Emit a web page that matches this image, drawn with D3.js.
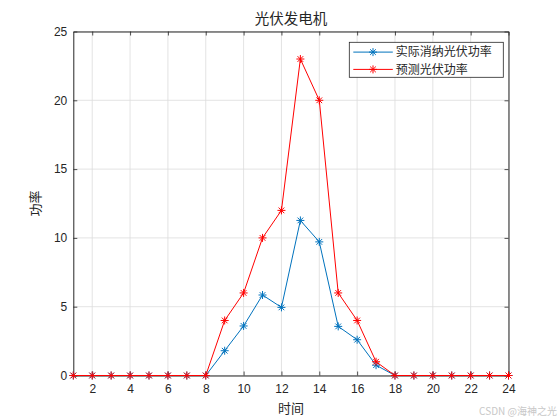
<!DOCTYPE html>
<html>
<head>
<meta charset="utf-8">
<script src="https://cdn.jsdelivr.net/npm/d3@7"></script>
<style>
  body { margin: 0; background: #fff; }
  svg { display: block; }
</style>
</head>
<body>
<svg id="chart" width="560" height="420"></svg>
<script>
// data
const hours = [1, 2, 3, 4, 5, 6, 7, 8, 9, 10, 11, 12, 13, 14, 15, 16, 17, 18, 19, 20, 21, 22, 23, 24];
const actualPower = [0, 0, 0, 0, 0, 0, 0, 0, 1.8, 3.6, 5.85, 4.95, 11.27, 9.71, 3.57, 2.6, 0.75, 0, 0, 0, 0, 0, 0, 0];
const forecastPower = [0, 0, 0, 0, 0, 0, 0, 0, 4, 6, 10, 12, 23, 20, 6, 4, 1, 0, 0, 0, 0, 0, 0, 0];
const xTicks = [2, 4, 6, 8, 10, 12, 14, 16, 18, 20, 22, 24];
const yTicks = [0, 5, 10, 15, 20, 25];
const seriesNames = ["实际消纳光伏功率", "预测光伏功率"];

const titleText = "光伏发电机";
const xLabel = "时间";
const yLabel = "功率";

const cjk = "'Noto Sans CJK SC', 'Noto Sans', sans-serif";
const num = "'Liberation Sans', Arial, sans-serif";
const ink = "#262626";

const margin = { left: 73.3, right: 560 - 508.5, top: 31.5, bottom: 420 - 375.5 };
const width = 560 - margin.left - margin.right;
const height = 420 - margin.top - margin.bottom;

const svg = d3.select("#chart");
const g = svg.append("g").attr("transform", `translate(${margin.left},${margin.top})`);

const x = d3.scaleLinear().domain([1, 24]).range([0, width]);
const y = d3.scaleLinear().domain([0, 25]).range([height, 0]);

// grid
g.append("g").selectAll("line").data(xTicks).join("line")
    .attr("x1", d => x(d)).attr("x2", d => x(d))
    .attr("y1", 0).attr("y2", height)
    .attr("stroke", "#dcdcdc").attr("stroke-width", 0.8);
g.append("g").selectAll("line").data(yTicks).join("line")
    .attr("x1", 0).attr("x2", width)
    .attr("y1", d => y(d)).attr("y2", d => y(d))
    .attr("stroke", "#dcdcdc").attr("stroke-width", 0.8);

// axes, ticks pointing inward like matlab
function styleAxis(sel) {
    sel.select(".domain").attr("stroke", ink).attr("stroke-width", 1);
    sel.selectAll(".tick line").attr("stroke", ink).attr("stroke-width", 0.8);
    sel.selectAll(".tick text").attr("fill", ink)
        .style("font-family", num).style("font-size", "12px");
}

g.append("g").attr("transform", `translate(0,${height})`)
    .call(d3.axisBottom(x).tickValues(xTicks).tickSizeInner(-4).tickSizeOuter(0).tickPadding(9))
    .call(styleAxis);
g.append("g")
    .call(d3.axisTop(x).tickValues(xTicks).tickSizeInner(-4).tickSizeOuter(0).tickFormat(""))
    .call(styleAxis);
g.append("g")
    .call(d3.axisLeft(y).tickValues(yTicks).tickSizeInner(-4).tickSizeOuter(0).tickPadding(6))
    .call(styleAxis);
g.append("g").attr("transform", `translate(${width},0)`)
    .call(d3.axisRight(y).tickValues(yTicks).tickSizeInner(-4).tickSizeOuter(0).tickFormat(""))
    .call(styleAxis);

// asterisk marker
const starPath = (() => {
    const r = 4, d = r * Math.SQRT1_2;
    return `M${-r},0L${r},0M0,${-r}L0,${r}M${-d},${-d}L${d},${d}M${-d},${d}L${d},${-d}`;
})();

const series = [
    { name: seriesNames[0], values: actualPower, color: "#0072BD" },
    { name: seriesNames[1], values: forecastPower, color: "#FF0000" }
];

const line = d3.line().x(d => x(d[0])).y(d => y(d[1]));

series.forEach(s => {
    const pts = hours.map((h, i) => [h, s.values[i]]);
    g.append("path")
        .attr("d", line(pts))
        .attr("fill", "none")
        .attr("stroke", s.color)
        .attr("stroke-width", 1);
    g.append("g").selectAll("path").data(pts).join("path")
        .attr("transform", d => `translate(${x(d[0])},${y(d[1])})`)
        .attr("d", starPath)
        .attr("fill", "none")
        .attr("stroke", s.color)
        .attr("stroke-width", 1);
});

// legend
const legend = svg.append("g").attr("transform", "translate(349.3,42.3)");
legend.append("rect")
    .attr("width", 154).attr("height", 35)
    .attr("fill", "#fff").attr("stroke", ink).attr("stroke-width", 0.8);
series.forEach((s, i) => {
    const ly = 9.8 + i * 17.3;
    legend.append("line")
        .attr("x1", 4).attr("x2", 43.5).attr("y1", ly).attr("y2", ly)
        .attr("stroke", s.color).attr("stroke-width", 1);
    legend.append("path")
        .attr("transform", `translate(23.7,${ly})`)
        .attr("d", starPath).attr("fill", "none")
        .attr("stroke", s.color).attr("stroke-width", 1);
    legend.append("text")
        .attr("x", 46.5).attr("y", ly).attr("dy", "0.36em")
        .attr("fill", ink)
        .style("font-family", cjk).style("font-size", "12px")
        .text(s.name);
});

// titles
svg.append("text")
    .attr("x", margin.left + width / 2).attr("y", 19).attr("dy", "0.36em")
    .attr("text-anchor", "middle").attr("fill", ink)
    .style("font-family", cjk).style("font-size", "14.5px")
    .text(titleText);
svg.append("text")
    .attr("x", margin.left + width / 2).attr("y", 408).attr("dy", "0.36em")
    .attr("text-anchor", "middle").attr("fill", ink)
    .style("font-family", cjk).style("font-size", "13px")
    .text(xLabel);
svg.append("text")
    .attr("transform", `translate(35,${margin.top + height / 2}) rotate(-90)`)
    .attr("dy", "0.36em")
    .attr("text-anchor", "middle").attr("fill", ink)
    .style("font-family", cjk).style("font-size", "13px")
    .text(yLabel);

// watermark
svg.append("text")
    .attr("x", 557).attr("y", 411).attr("dy", "0.36em")
    .attr("text-anchor", "end").attr("fill", "#c8c8c8")
    .style("font-family", cjk).style("font-size", "10px")
    .text("CSDN @海神之光");
</script>
</body>
</html>
